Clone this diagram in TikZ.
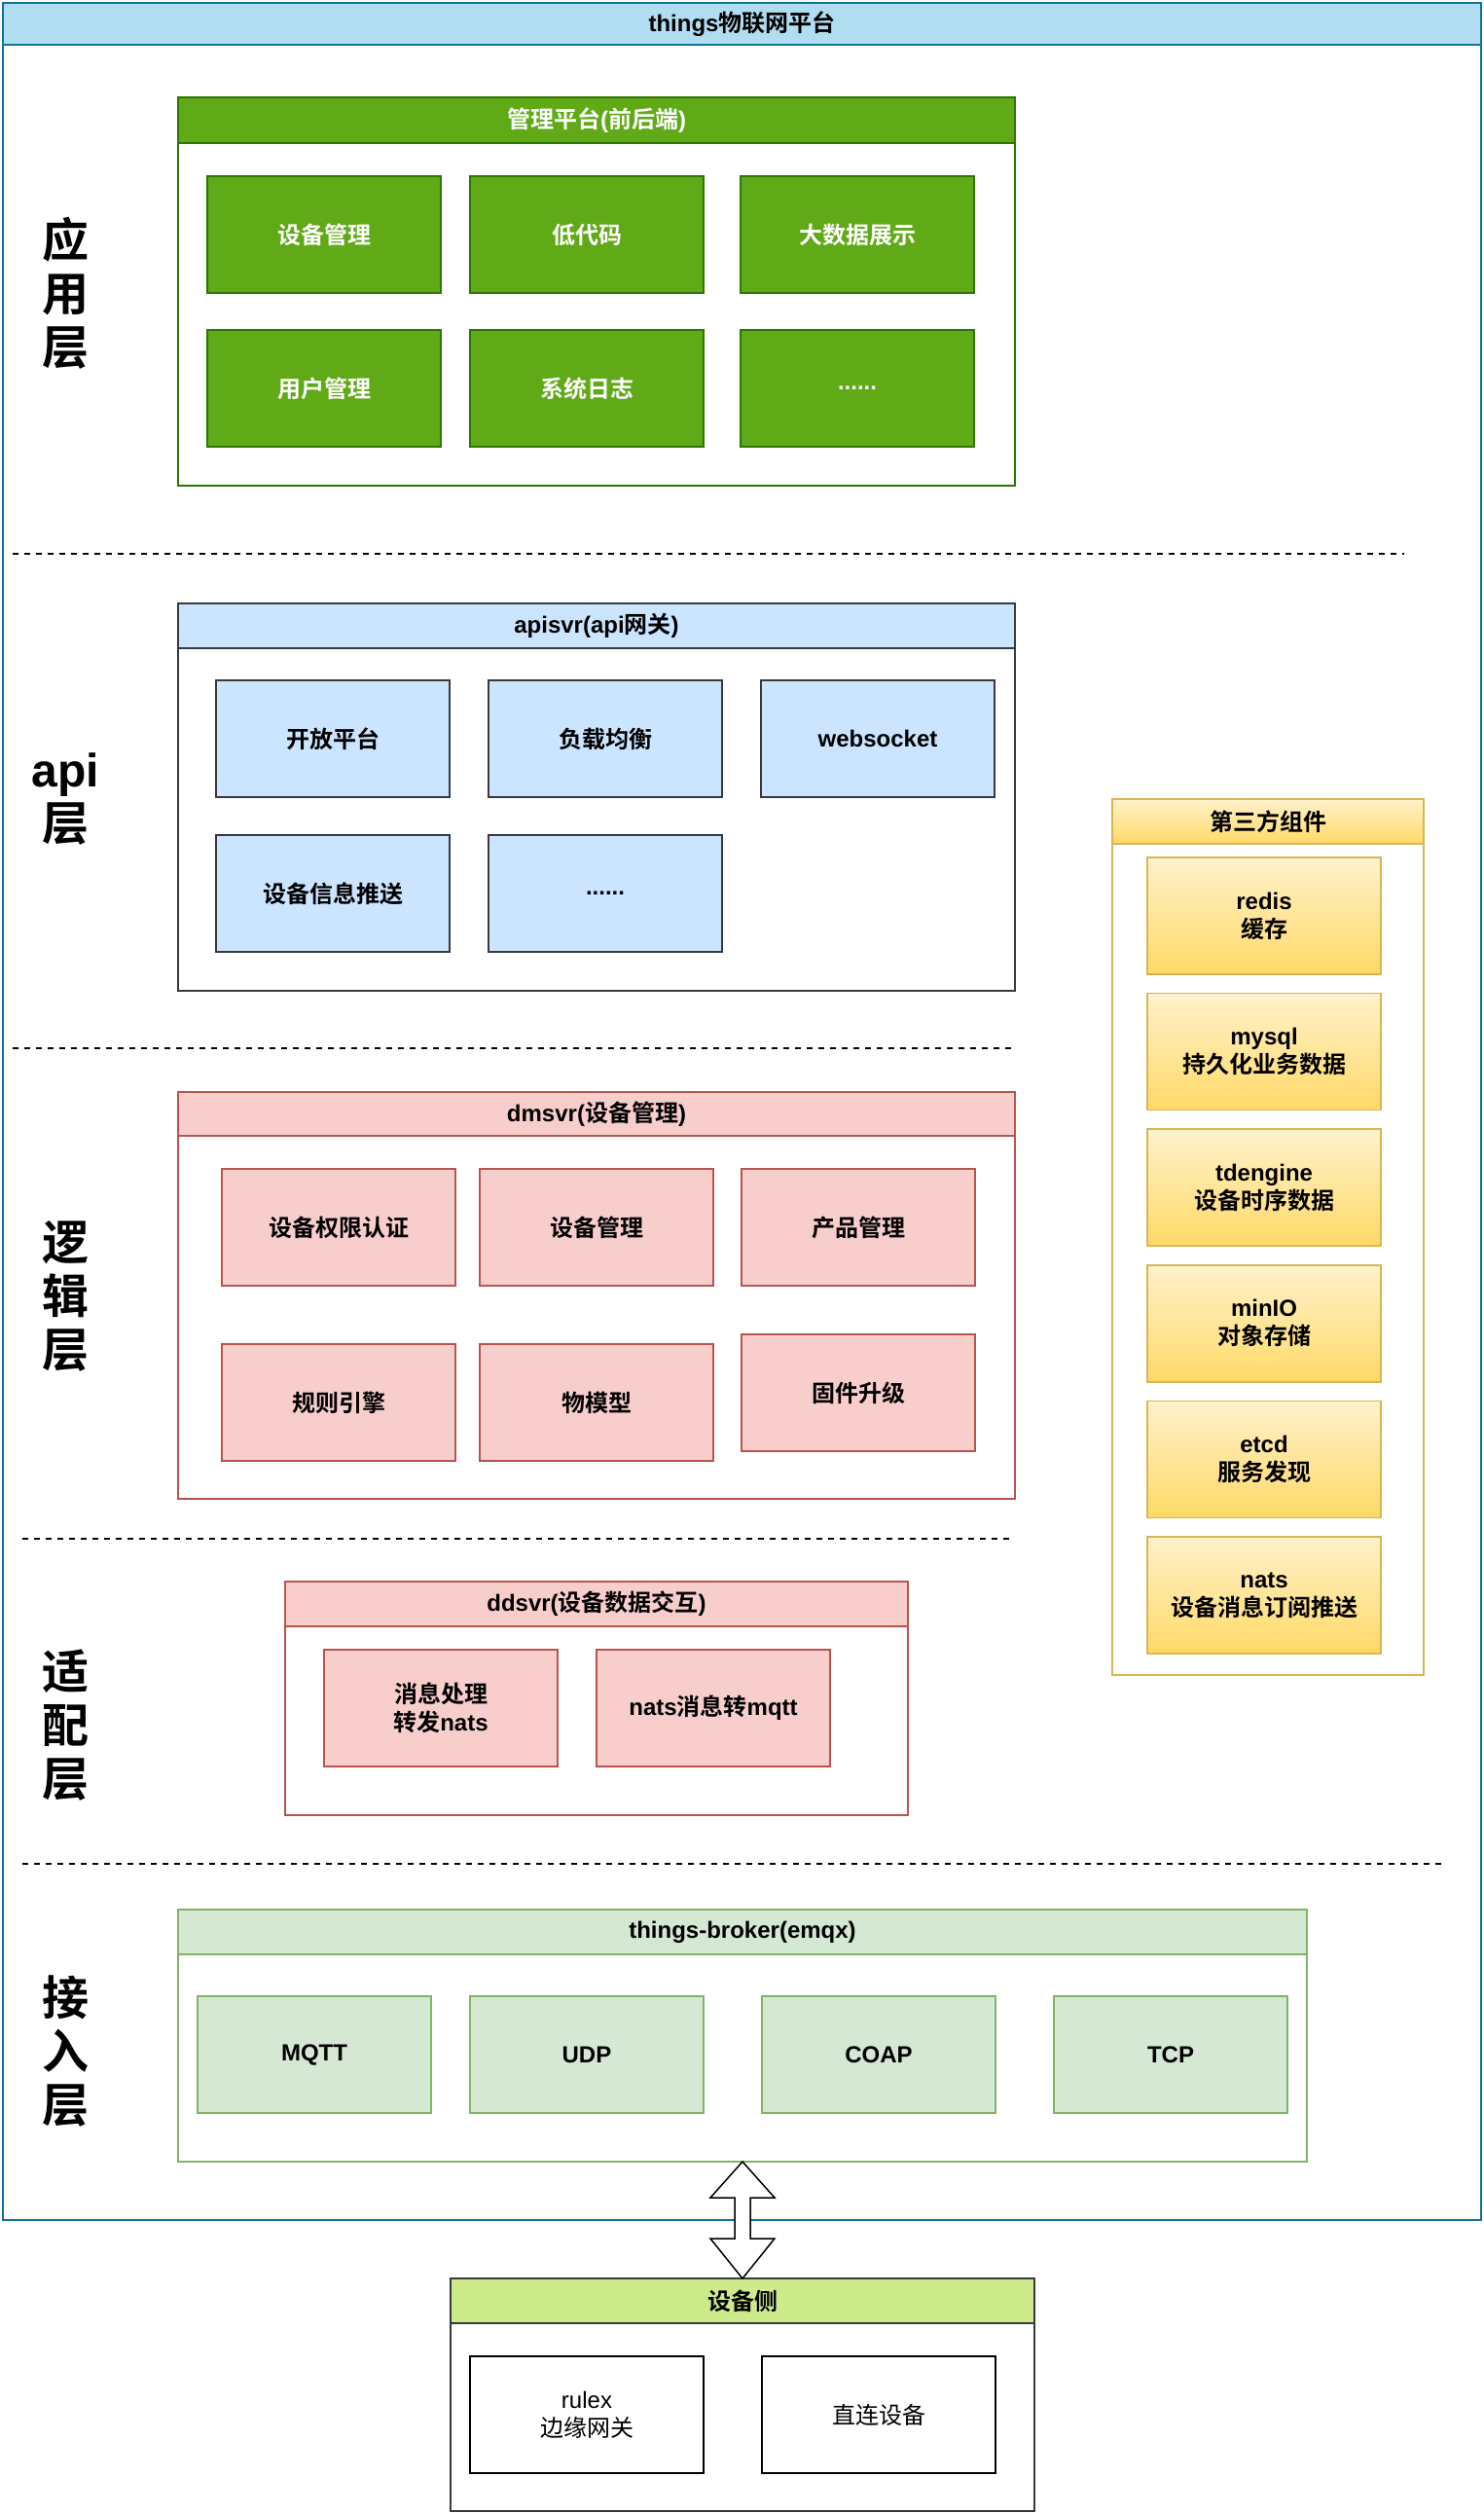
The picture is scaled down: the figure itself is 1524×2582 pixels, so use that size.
\documentclass[tikz,border=0pt]{standalone}
\usepackage{fontspec}
\usetikzlibrary{positioning}
\setmainfont{Liberation Sans}
\newfontfamily\cjkfont{Noto Sans CJK SC}[BoldFont={Noto Sans CJK SC Bold}]
\newXeTeXintercharclass\cjkclass
\newcount\cjkcode
\cjkcode="4E00
\loop
  \XeTeXcharclass\cjkcode=\cjkclass
  \advance\cjkcode by 1
\ifnum\cjkcode<"A000 \repeat
\XeTeXinterchartoks 0 \cjkclass={\cjkfont}
\XeTeXinterchartoks 4095 \cjkclass={\cjkfont}
\XeTeXinterchartoks \cjkclass 0={\rmfamily}
\XeTeXinterchartokenstate=1
\definecolor{titlefill}{HTML}{B1DDF0}
\definecolor{titleedge}{HTML}{10739E}
\definecolor{appfill}{HTML}{60A917}
\definecolor{appedge}{HTML}{2D7600}
\definecolor{apifill}{HTML}{CCE5FF}
\definecolor{apiedge}{HTML}{36393D}
\definecolor{logicfill}{HTML}{F8CECC}
\definecolor{logicedge}{HTML}{B85450}
\definecolor{brokerfill}{HTML}{D5E8D4}
\definecolor{brokeredge}{HTML}{82B366}
\definecolor{devfill}{HTML}{CDEB8B}
\definecolor{devedge}{HTML}{36393D}
\definecolor{tptop}{HTML}{FFF2CC}
\definecolor{tpbottom}{HTML}{FFD966}
\definecolor{tpedge}{HTML}{D6B656}
\tikzset{
	layerlbl/.style={font=\fontsize{48}{55}\selectfont\bfseries, align=center, inner sep=0pt},
	grpbox/.style={rectangle, draw, fill=white, line width=1.5pt, anchor=north west},
	grphead/.style={rectangle, draw, line width=1.5pt, anchor=north, font=\fontsize{24}{29}\selectfont\bfseries},
	modbox/.style={rectangle, draw, line width=1.5pt, minimum width=240pt, minimum height=120pt,
		align=center, inner sep=2pt, font=\fontsize{24}{29}\selectfont\bfseries},
	appbox/.style={modbox, fill=appfill, draw=appedge, text=white},
	apibox/.style={modbox, fill=apifill, draw=apiedge},
	logicbox/.style={modbox, fill=logicfill, draw=logicedge},
	brokerbox/.style={modbox, fill=brokerfill, draw=brokeredge},
	tpbox/.style={modbox, top color=tptop, bottom color=tpbottom, draw=tpedge},
	devbox/.style={modbox, fill=white, draw=black, font=\fontsize{24}{29}\selectfont},
	sepline/.style={dash pattern=on 6pt off 6pt, line width=2pt},
	blockarr/.style={draw=black, fill=white, line width=1.5pt, line join=miter}
}
\begin{document}
\begin{tikzpicture}[x=1pt, y=-1pt, outer sep=0pt, node distance=40pt and 40pt]
	\useasboundingbox (0,0) rectangle (1524,2582);
	\node[grpbox, draw=titleedge, line width=2pt, minimum width=1519pt, minimum height=2278pt] (platform) at (3,3) {};
	\node[grphead, fill=titlefill, draw=titleedge, line width=2pt, minimum width=1519pt, minimum height=43pt] (platformhd) at (platform.north) {things物联网平台};
	\node[layerlbl] (applbl) at (67,301) {应\\用\\层};
	\node[layerlbl] (apilbl) at (67,821) {api\\层};
	\node[layerlbl] (logiclbl) at (67,1332) {逻\\辑\\层};
	\node[layerlbl] (adaptlbl) at (67,1773) {适\\配\\层};
	\node[layerlbl] (accesslbl) at (67,2108) {接\\入\\层};
	\draw[sepline] (13,569) -- (1443,569);
	\draw[sepline] (13,1077) -- (1039,1077);
	\draw[sepline] (23,1581) -- (1039,1581);
	\draw[sepline] (23,1915) -- (1482,1915);
	\node[grpbox, draw=appedge, minimum width=860pt, minimum height=399pt] (mgmt) at (183,100) {};
	\node[grphead, fill=appfill, draw=appedge, text=white, minimum width=860pt, minimum height=47pt] (mgmthd) at (mgmt.north) {管理平台(前后端)};
	\node[appbox] (devmgr) at (333,241) {设备管理};
	\node[appbox, right=30pt of devmgr] (lowcode) {低代码};
	\node[appbox, right=38pt of lowcode] (bigdata) {大数据展示};
	\node[appbox, below=38pt of devmgr] (usermgr) {用户管理};
	\node[appbox, below=38pt of lowcode] (syslog) {系统日志};
	\node[appbox, below=38pt of bigdata] (appmore) {......};
	\node[grpbox, draw=apiedge, minimum width=860pt, minimum height=398pt] (apisvr) at (183,620) {};
	\node[grphead, fill=apifill, draw=apiedge, minimum width=860pt, minimum height=46pt] (apisvrhd) at (apisvr.north) {apisvr(api网关)};
	\node[apibox] (openplat) at (342,759) {开放平台};
	\node[apibox, right=of openplat] (loadbal) {负载均衡};
	\node[apibox, right=of loadbal] (websock) {websocket};
	\node[apibox, below=39pt of openplat] (devpush) {设备信息推送};
	\node[apibox, below=39pt of loadbal] (apimore) {......};
	\node[grpbox, draw=logicedge, minimum width=860pt, minimum height=418pt] (dmsvr) at (183,1122) {};
	\node[grphead, fill=logicfill, draw=logicedge, minimum width=860pt, minimum height=45pt] (dmsvrhd) at (dmsvr.north) {dmsvr(设备管理)};
	\node[logicbox] (devauth) at (348,1261) {设备权限认证};
	\node[logicbox, right=25pt of devauth] (dmdev) {设备管理};
	\node[logicbox, right=29pt of dmdev] (product) {产品管理};
	\node[logicbox, below=60pt of devauth] (ruleng) {规则引擎};
	\node[logicbox, below=60pt of dmdev] (thingmodel) {物模型};
	\node[logicbox, below=50pt of product] (firmware) {固件升级};
	\node[grpbox, draw=logicedge, minimum width=640pt, minimum height=240pt] (ddsvr) at (293,1625) {};
	\node[grphead, fill=logicfill, draw=logicedge, minimum width=640pt, minimum height=46pt] (ddsvrhd) at (ddsvr.north) {ddsvr(设备数据交互)};
	\node[logicbox] (msgproc) at (453,1755) {消息处理\\转发nats};
	\node[logicbox, right=of msgproc] (nats2mqtt) {nats消息转mqtt};
	\node[grpbox, draw=brokeredge, minimum width=1160pt, minimum height=259pt] (broker) at (183,1962) {};
	\node[grphead, fill=brokerfill, draw=brokeredge, minimum width=1160pt, minimum height=46pt] (brokerhd) at (broker.north) {things-broker(emqx)};
	\node[brokerbox] (mqtt) at (323,2111) {MQTT};
	\node[brokerbox, right=of mqtt] (udp) {UDP};
	\node[brokerbox, right=60pt of udp] (coap) {COAP};
	\node[brokerbox, right=60pt of coap] (tcp) {TCP};
	\node[grpbox, draw=tpedge, minimum width=320pt, minimum height=900pt] (thirdparty) at (1143,821) {};
	\node[grphead, top color=tptop, bottom color=tpbottom, draw=tpedge, minimum width=320pt, minimum height=46pt] (thirdpartyhd) at (thirdparty.north) {第三方组件};
	\node[tpbox] (redis) at (1299,941) {redis\\缓存};
	\node[tpbox, below=19.6pt of redis] (mysql) {mysql\\持久化业务数据};
	\node[tpbox, below=19.6pt of mysql] (tdengine) {tdengine\\设备时序数据};
	\node[tpbox, below=19.6pt of tdengine] (minio) {minIO\\对象存储};
	\node[tpbox, below=19.6pt of minio] (etcd) {etcd\\服务发现};
	\node[tpbox, below=19.6pt of etcd] (nats) {nats\\设备消息订阅推送};
	\node[grpbox, draw=devedge, minimum width=600pt, minimum height=239pt] (devside) at (463,2341) {};
	\node[grphead, fill=devfill, draw=devedge, minimum width=600pt, minimum height=46pt] (devsidehd) at (devside.north) {设备侧};
	\node[devbox] (rulex) at (603,2481) {rulex\\边缘网关};
	\node[devbox, right=60pt of rulex] (direct) {直连设备};
	\draw[blockarr] (broker.south) -- ++(33,37) -- ++(-25,0) -- ++(0,42) -- ++(25,0) -- (devside.north)
		-- ++(-33,-41) -- ++(25,0) -- ++(0,-42) -- ++(-25,0) -- cycle;
\end{tikzpicture}
\end{document}
